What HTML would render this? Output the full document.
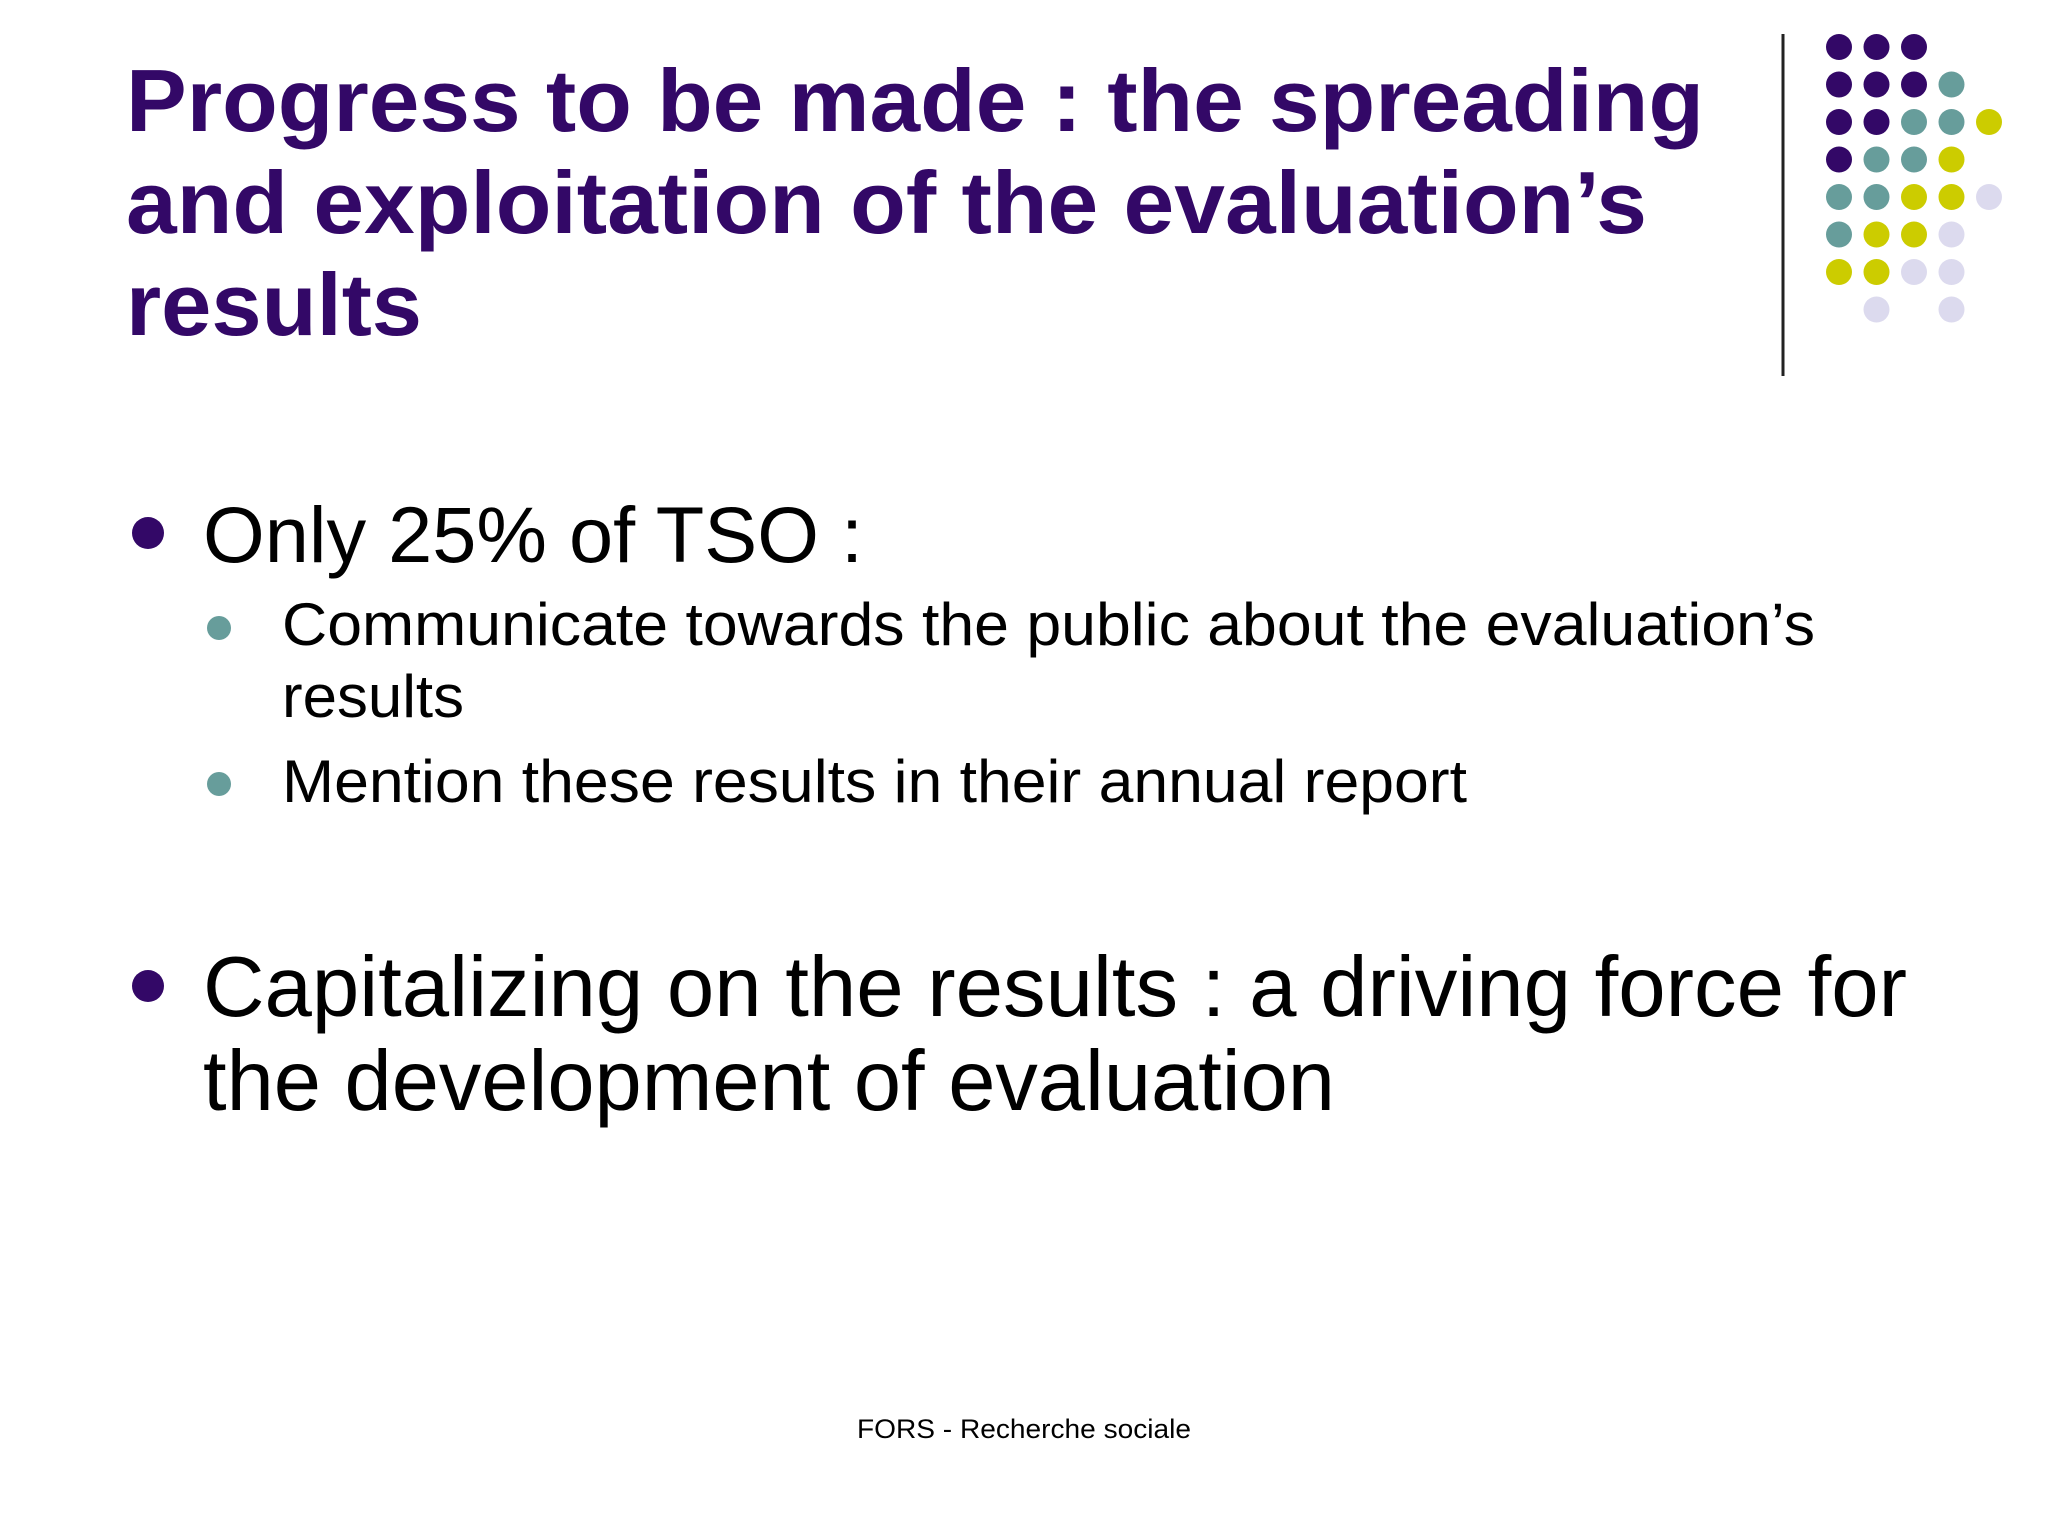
<!DOCTYPE html>
<html><head><meta charset="utf-8"><style>
html,body{margin:0;padding:0;background:#fff;}
svg{display:block;font-family:"Liberation Sans",Arial,sans-serif;}
</style></head><body>
<svg width="2048" height="1536" viewBox="0 0 2048 1536">
<rect width="2048" height="1536" fill="#fff"/>
<g fill="#330867" font-weight="bold" font-size="88">
<text x="126" y="131" textLength="1578" lengthAdjust="spacingAndGlyphs">Progress to be made : the spreading</text>
<text x="126" y="233" textLength="1521" lengthAdjust="spacingAndGlyphs">and exploitation of the evaluation’s</text>
<text x="126" y="335" textLength="296" lengthAdjust="spacingAndGlyphs">results</text>
</g>
<line x1="1783" y1="34" x2="1783" y2="376" stroke="#222" stroke-width="3"/>
<g id="dots"></g>
<circle cx="148" cy="533" r="16" fill="#330867"/>
<text x="203" y="562" font-size="79" textLength="660" lengthAdjust="spacingAndGlyphs" fill="#000">Only 25% of TSO :</text>
<circle cx="219" cy="628" r="12" fill="#679d9b"/>
<text x="282" y="645" font-size="60" textLength="1533" lengthAdjust="spacingAndGlyphs" fill="#000">Communicate towards the public about the evaluation’s</text>
<text x="282" y="717" font-size="60" textLength="182" lengthAdjust="spacingAndGlyphs" fill="#000">results</text>
<circle cx="219" cy="784" r="12" fill="#679d9b"/>
<text x="282" y="802" font-size="60" textLength="1185" lengthAdjust="spacingAndGlyphs" fill="#000">Mention these results in their annual report</text>
<circle cx="148" cy="986" r="16" fill="#330867"/>
<text x="203" y="1016" font-size="85" textLength="1704" lengthAdjust="spacingAndGlyphs" fill="#000">Capitalizing on the results : a driving force for</text>
<text x="203" y="1110" font-size="85" textLength="1132" lengthAdjust="spacingAndGlyphs" fill="#000">the development of evaluation</text>
<text x="857" y="1438" font-size="27" textLength="334" lengthAdjust="spacingAndGlyphs" fill="#000">FORS - Recherche sociale</text>
</svg>
<script>
const P='#330867',T='#679d9b',Y='#cccc00',L='#dcdaee';
const grid=[
[P,P,P,null,null],
[P,P,P,T,null],
[P,P,T,T,Y],
[P,T,T,Y,null],
[T,T,Y,Y,L],
[T,Y,Y,L,null],
[Y,Y,L,L,null],
[null,L,null,L,null]];
const g=document.getElementById('dots');
grid.forEach((row,r)=>row.forEach((c,i)=>{
 if(!c)return;
 const el=document.createElementNS('http://www.w3.org/2000/svg','circle');
 el.setAttribute('cx',1839+i*37.5);
 el.setAttribute('cy',47+r*37.5);
 el.setAttribute('r',13);
 el.setAttribute('fill',c);
 
 
 g.appendChild(el);
}));
</script>
</body></html>
